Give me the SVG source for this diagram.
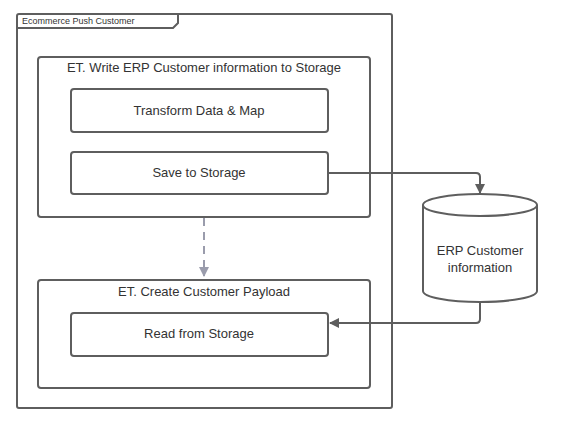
<svg xmlns="http://www.w3.org/2000/svg" width="568" height="428" viewBox="0 0 568 428">
<defs>
<style>
.box{fill:#fff;stroke:#5e5e5e;stroke-width:2}
.t{font-family:"Liberation Sans",Arial,sans-serif;fill:#333;text-anchor:middle}
.c{fill:none;stroke:#5e5e5e;stroke-width:2}
</style>
<marker id="ah" markerWidth="10" markerHeight="10" refX="9" refY="5" orient="auto" markerUnits="userSpaceOnUse"><path d="M0,0 L10,5 L0,10 Z" fill="#5e5e5e"/></marker>
<marker id="ahd" markerWidth="10" markerHeight="10" refX="9" refY="5" orient="auto" markerUnits="userSpaceOnUse"><path d="M0,0 L10,5 L0,10 Z" fill="#9a9cac"/></marker>
</defs>
<rect width="568" height="428" fill="#fff"/>
<g id="frame">
<rect class="box" x="17" y="14" width="375" height="394" rx="2"/>
<path class="c" d="M17,28 L173,28 L178,23 L178,14"/>
<text x="22" y="24" font-family="Liberation Sans,Arial,sans-serif" font-size="9" fill="#333">Ecommerce Push Customer</text>
</g>
<g id="group1">
<rect class="box" x="38" y="57" width="332" height="160" rx="3"/>
<text class="t" x="204" y="72" font-size="13">ET. Write ERP Customer information to Storage</text>
</g>
<g id="transform">
<rect class="box" x="71" y="89" width="257" height="43" rx="3"/>
<text class="t" x="199" y="115" font-size="13">Transform Data &amp; Map</text>
</g>
<g id="save">
<rect class="box" x="71" y="152" width="257" height="42" rx="3"/>
<text class="t" x="199" y="177" font-size="13">Save to Storage</text>
</g>
<g id="group2">
<rect class="box" x="38" y="280" width="332" height="108" rx="3"/>
<text class="t" x="204" y="296" font-size="13">ET. Create Customer Payload</text>
</g>
<g id="read">
<rect class="box" x="71" y="313" width="257" height="43" rx="3"/>
<text class="t" x="199" y="338" font-size="13">Read from Storage</text>
</g>
<g id="db">
<path class="box" d="M423,205 L423,291 A57,11 0 0 0 537,291 L537,205 A57,11 0 0 0 423,205 Z"/>
<path class="c" d="M423,205 A57,11 0 0 0 537,205"/>
<text class="t" x="480" y="255" font-size="13">ERP Customer</text>
<text class="t" x="480" y="272" font-size="13">information</text>
</g>
<g id="connectors">
<path class="c" d="M328,173 L476,173 Q480,173 480,177 L480,193" marker-end="url(#ah)"/>
<path class="c" d="M480,302 L480,319 Q480,323 476,323 L330,323" marker-end="url(#ah)"/>
<path d="M204,218 L204,276" fill="none" stroke="#9a9cac" stroke-width="2" stroke-dasharray="8,6" marker-end="url(#ahd)"/>
</g>
</svg>
